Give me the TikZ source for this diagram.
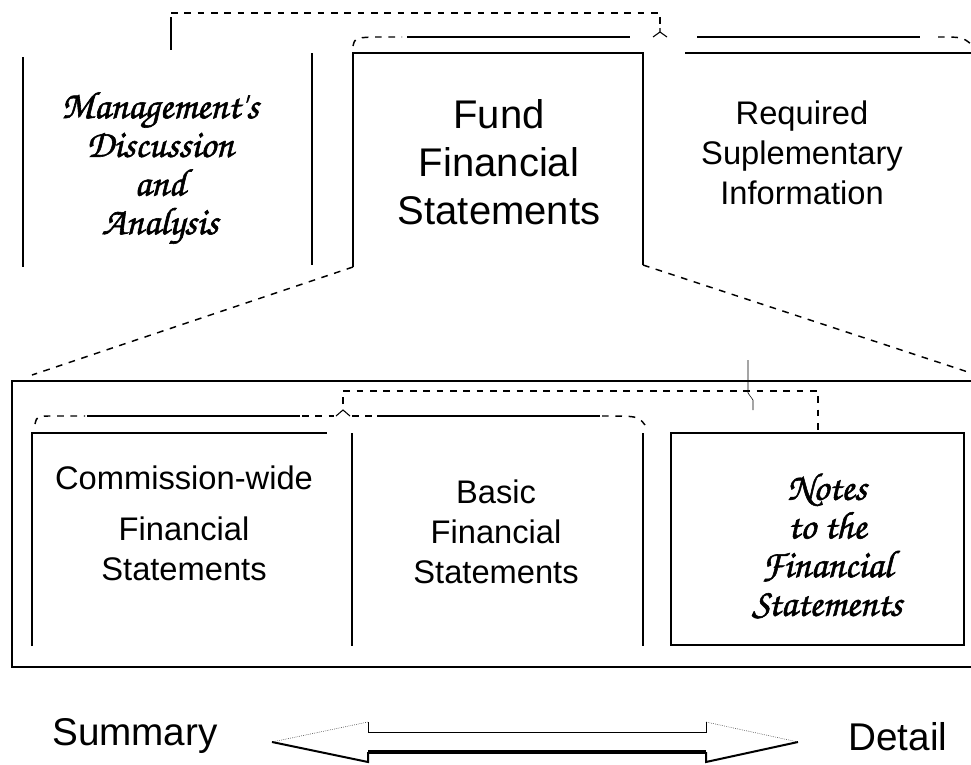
\documentclass[tikz,border=0pt]{standalone}
\usepackage{fontspec}
\setmainfont{Liberation Sans}
\newfontfamily\handfont{texgyrechorus-mediumitalic.otf}[RawFeature={embolden=1.5}]
\tikzset{
  frame/.style={line width=1.3pt},
  dashline/.style={line width=1.1pt,dash pattern=on 5pt off 5pt},
  bigtext/.style={font=\fontsize{30}{36}\selectfont,align=center},
  midtext/.style={font=\fontsize{24.5}{30}\selectfont,align=center},
  handtext/.style={font=\handfont\fontsize{29}{29}\selectfont,align=center},
  endtext/.style={font=\fontsize{29}{34}\selectfont,anchor=base}
}
\begin{document}
\begin{tikzpicture}[x=0.75pt,y=-0.75pt]
\useasboundingbox (0,0) rectangle (971,764);
% links over the top row
\draw[dashline] (171,13) -- (660,13) -- (660,28);
\draw[frame] (171,17) -- (171,50);
\draw[dashline] (353,46) .. controls (355,38) .. (372,37) -- (402,37);
\draw[frame] (407,37) -- (630,37);
\draw[thick] (660,28) -- (660,32) -- (653,37) (660,32) -- (667,37);
\draw[frame] (697,37) -- (920,37);
\draw[dashline] (938,37) .. controls (962,37) .. (971,44);
% top row
\draw[frame] (23,57) -- (23,267);
\draw[frame] (312,53) -- (312,265);
\draw[frame] (353,267) -- (353,53) -- (643,53) -- (643,265);
\draw[frame] (685,53) -- (980,53);
\node[handtext] (mda) at (160,168) {Management's\\Discussion\\and\\Analysis};
\node[bigtext] (fund) at (499,162) {Fund\\Financial\\Statements};
\node[midtext] (rsi) at (802,153) {Required\\Suplementary\\Information};
% zoom lines
\draw[dashline] (353,267) -- (32,375);
\draw[dashline] (643,265) -- (971,373);
% lower frame
\draw[frame] (980,381) -- (12,381) -- (12,667) -- (980,667);
\draw[dashline] (343,404) -- (343,391) -- (818,391) -- (818,433);
\draw[thick] (336,416) -- (343,410) -- (350,416);
\draw[dashline] (35,424) .. controls (37,416) .. (52,416) -- (85,416);
\draw[frame] (87,416) -- (300,416);
\draw[dashline] (302,416) -- (334,416) (352,416) -- (374,416);
\draw[frame] (377,416) -- (600,416);
\draw[dashline] (602,416) .. controls (638,416) .. (645,425);
\draw (748,360) -- (748,393) -- (753,400) -- (753,410);
% lower row
\draw[frame] (32,646) -- (32,433) -- (327,433);
\draw[frame] (352,433) -- (352,646);
\draw[frame] (643,433) -- (643,646);
\draw[frame] (671,433) rectangle (964,645);
\node[midtext] (cw) at (184,523) {Commission-wide\\[8pt]Financial\\Statements};
\node[midtext] (basic) at (496,532) {Basic\\Financial\\Statements};
\node[handtext] (notes) at (827,546) {Notes\\to the\\Financial\\Statements};
% scale arrow
\node[endtext] (sum) at (135,745) {Summary};
\node[endtext] (det) at (898,750) {Detail};
\coordinate (ltip) at (272,742);
\coordinate (rtip) at (798,742);
\draw[densely dotted] (ltip) -- (368,722);
\draw (368,722) -- (368,732) -- (706,732) -- (706,722);
\draw[densely dotted] (706,722) -- (rtip);
\draw[line width=1.5pt] (rtip) -- (706,762) -- (706,752);
\draw[line width=3pt] (706,752) -- (368,752);
\draw[line width=1.5pt] (368,752) -- (368,762) -- (ltip);
\end{tikzpicture}
\end{document}
